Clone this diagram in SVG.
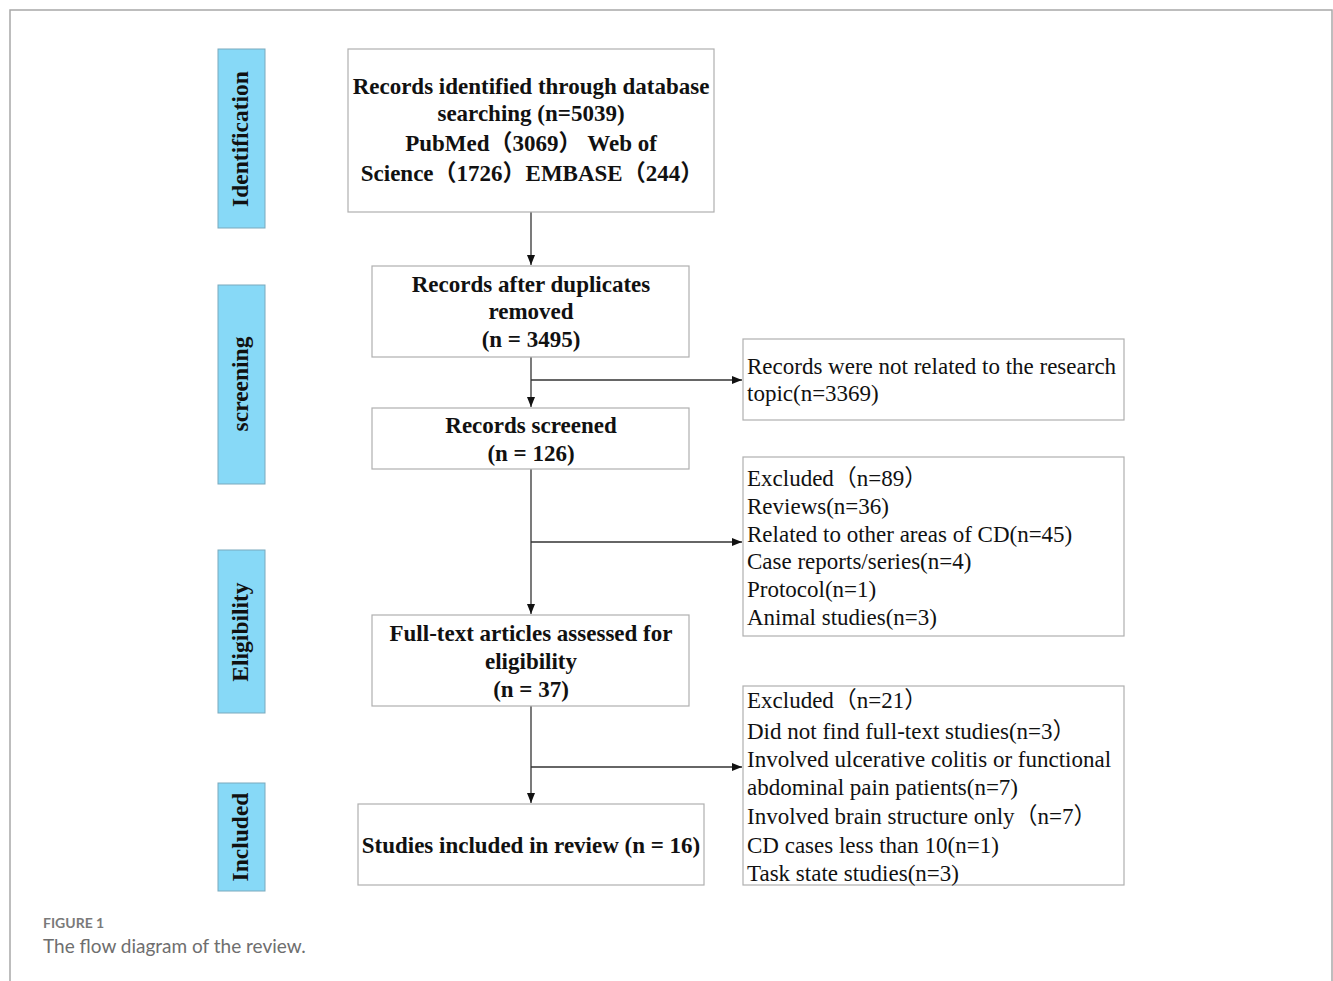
<svg xmlns="http://www.w3.org/2000/svg" width="1333" height="981" viewBox="0 0 1333 981">
<style>
.frame{fill:none;stroke:#a8a8a8;stroke-width:1.5}
.side{fill:#87d9f7;stroke:#7aa9bd;stroke-width:1}
.box{fill:#fff;stroke:#b0b0b0;stroke-width:1.2}
.b{font-family:"Liberation Serif","Noto Sans CJK SC",serif;font-weight:bold;font-size:23px;fill:#111;text-anchor:middle}
.s{font-family:"Liberation Serif",serif;font-weight:bold;font-size:23.5px;fill:#111;text-anchor:middle}
.r{font-family:"Liberation Serif","Noto Sans CJK SC",serif;font-size:23px;fill:#111}
.conn{fill:none;stroke:#333;stroke-width:1.3}
.cap1{font-family:Lato,"Open Sans",sans-serif;font-weight:bold;font-size:14px;fill:#7a7a7a}
.cap2{font-family:Lato,"Open Sans",sans-serif;font-size:19px;fill:#6e6e6e}
</style>
<defs>
<marker id="ah" viewBox="0 0 10 10" refX="10" refY="5" markerWidth="10" markerHeight="10" markerUnits="userSpaceOnUse" orient="auto">
<path d="M0,1 L10,5 L0,9 z" fill="#111"/>
</marker>
</defs>
<rect width="1333" height="981" fill="#fff"/>
<path class="frame" d="M10,981 L10,10 L1332,10 L1332,981"/>

<g id="side-identification"><rect class="side" x="218" y="49" width="47" height="179"/><text class="s" transform="translate(248,139) rotate(-90)">Identification</text></g>
<g id="side-screening"><rect class="side" x="218" y="285" width="47" height="199"/><text class="s" transform="translate(248,384) rotate(-90)">screening</text></g>
<g id="side-eligibility"><rect class="side" x="218" y="550" width="47" height="163"/><text class="s" transform="translate(248,632) rotate(-90)">Eligibility</text></g>
<g id="side-included"><rect class="side" x="218" y="783" width="47" height="108"/><text class="s" transform="translate(248,837) rotate(-90)">Included</text></g>

<g id="connectors">
<line class="conn" x1="531" y1="212" x2="531" y2="265" marker-end="url(#ah)"/>
<line class="conn" x1="531" y1="357" x2="531" y2="407" marker-end="url(#ah)"/>
<line class="conn" x1="531" y1="380" x2="742" y2="380" marker-end="url(#ah)"/>
<line class="conn" x1="531" y1="469" x2="531" y2="614" marker-end="url(#ah)"/>
<line class="conn" x1="531" y1="542" x2="742" y2="542" marker-end="url(#ah)"/>
<line class="conn" x1="531" y1="706" x2="531" y2="803" marker-end="url(#ah)"/>
<line class="conn" x1="531" y1="767" x2="742" y2="767" marker-end="url(#ah)"/>
</g>

<g id="n-identified"><rect class="box" x="348" y="49" width="366" height="163"/>
<text class="b" x="531" y="94">Records identified through database</text>
<text class="b" x="531" y="121">searching (n=5039)</text>
<text class="b" x="531" y="151">PubMed（3069） Web of</text>
<text class="b" x="532" y="181">Science（1726）EMBASE（244）</text></g>

<g id="n-dedup"><rect class="box" x="372" y="266" width="317" height="91"/>
<text class="b" x="531" y="292">Records after duplicates</text>
<text class="b" x="531" y="319">removed</text>
<text class="b" x="531" y="347">(n = 3495)</text></g>

<g id="n-screened"><rect class="box" x="372" y="408" width="317" height="61"/>
<text class="b" x="531" y="433">Records screened</text>
<text class="b" x="531" y="461">(n = 126)</text></g>

<g id="n-fulltext"><rect class="box" x="372" y="615" width="317" height="91"/>
<text class="b" x="531" y="641">Full-text articles assessed for</text>
<text class="b" x="531" y="669">eligibility</text>
<text class="b" x="531" y="697">(n = 37)</text></g>

<g id="n-included"><rect class="box" x="358" y="804" width="346" height="81"/>
<text class="b" x="531" y="853">Studies included in review (n = 16)</text></g>

<g id="x-topic"><rect class="box" x="743" y="339" width="381" height="81"/>
<text class="r" x="747" y="374">Records were not related to the research</text>
<text class="r" x="747" y="401">topic(n=3369)</text></g>

<g id="x-screen"><rect class="box" x="743" y="457" width="381" height="179"/>
<text class="r" x="747" y="486">Excluded（n=89）</text>
<text class="r" x="747" y="514">Reviews(n=36)</text>
<text class="r" x="747" y="542">Related to other areas of CD(n=45)</text>
<text class="r" x="747" y="569">Case reports/series(n=4)</text>
<text class="r" x="747" y="597">Protocol(n=1)</text>
<text class="r" x="747" y="625">Animal studies(n=3)</text></g>

<g id="x-fulltext"><rect class="box" x="743" y="686" width="381" height="199"/>
<text class="r" x="747" y="708">Excluded（n=21）</text>
<text class="r" x="747" y="739">Did not find full-text studies(n=3）</text>
<text class="r" x="747" y="767">Involved ulcerative colitis or functional</text>
<text class="r" x="747" y="795">abdominal pain patients(n=7)</text>
<text class="r" x="747" y="824">Involved brain structure only（n=7）</text>
<text class="r" x="747" y="853">CD cases less than 10(n=1)</text>
<text class="r" x="747" y="881">Task state studies(n=3)</text></g>

<text class="cap1" x="43" y="928">FIGURE 1</text>
<text class="cap2" x="43" y="953">The flow diagram of the review.</text>
</svg>
